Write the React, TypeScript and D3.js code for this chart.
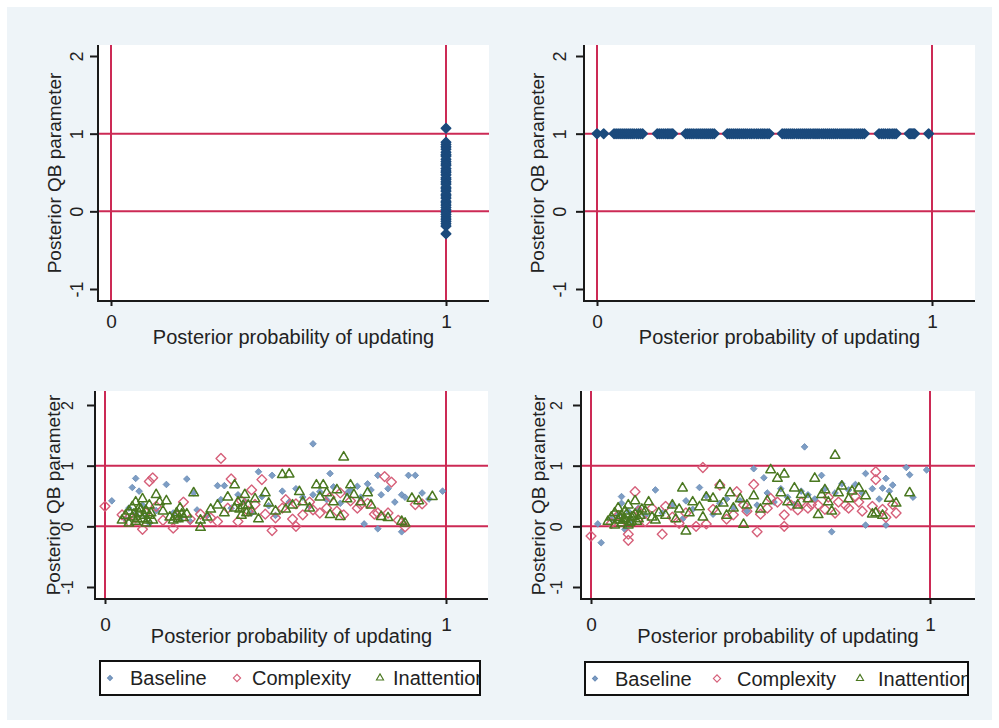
import React, { useEffect, useRef } from 'react';
import * as d3 from 'd3';

const FONT = "'Liberation Sans', Arial, sans-serif";

// axis ticks and reference lines
const yTicks = [-1, 0, 1, 2];
const xTicks = [0, 1];
const xRefs = [0, 1];
const yRefs = [0, 1];
const yTitle = 'Posterior QB parameter';
const xTitle = 'Posterior probability of updating';
const seriesNames = ['Baseline', 'Complexity', 'Inattention'];

// top-left panel: every point sits at x = 1
const topLeftY = [1.07, 0.89, 0.86, 0.83, 0.8, 0.76, 0.73, 0.71, 0.67, 0.64, 0.61, 0.59, 0.55, 0.52, 0.5, 0.47,
  0.43, 0.41, 0.38, 0.35, 0.31, 0.29, 0.26, 0.22, 0.2, 0.17, 0.13, 0.11, 0.08, 0.05, 0.02, -0.01, -0.04, -0.07,
  -0.1, -0.13, -0.16, -0.19, -0.29];

// top-right panel: every point sits at y = 1
const topRightX = [0.0, 0.02, 0.051, 0.057, 0.063, 0.069, 0.075, 0.081, 0.087, 0.093, 0.099, 0.105, 0.111, 0.118,
  0.124, 0.13, 0.136, 0.18, 0.186, 0.192, 0.198, 0.204, 0.21, 0.215, 0.221, 0.226, 0.265, 0.271, 0.277, 0.283,
  0.289, 0.296, 0.302, 0.308, 0.314, 0.32, 0.326, 0.332, 0.338, 0.344, 0.35, 0.389, 0.395, 0.401, 0.407, 0.413,
  0.419, 0.425, 0.431, 0.437, 0.443, 0.449, 0.456, 0.462, 0.469, 0.476, 0.482, 0.489, 0.495, 0.501, 0.508, 0.514,
  0.553, 0.559, 0.565, 0.571, 0.577, 0.583, 0.589, 0.596, 0.602, 0.608, 0.614, 0.62, 0.626, 0.632, 0.638, 0.645,
  0.651, 0.657, 0.663, 0.67, 0.676, 0.682, 0.688, 0.694, 0.7, 0.706, 0.712, 0.718, 0.725, 0.731, 0.737, 0.743,
  0.749, 0.755, 0.761, 0.768, 0.774, 0.78, 0.786, 0.792, 0.798, 0.842, 0.849, 0.855, 0.861, 0.868, 0.874, 0.881,
  0.887, 0.893, 0.932, 0.936, 0.94, 0.944, 0.948, 0.99];

// bottom-left panel
const blBaseline: [number, number][] = [[0.02, 0.42], [0.09, 0.79], [0.08, 0.64], [0.1, 0.58], [0.07, 0.3], [0.06, 0.12],
  [0.09, 0.2], [0.11, 0.35], [0.12, 0.15], [0.13, 0.05], [0.15, 0.26], [0.18, 0.69], [0.2, 0.22], [0.22, 0.12],
  [0.24, 0.78], [0.26, 0.55], [0.27, 0.27], [0.25, 0.08], [0.3, 0.18], [0.33, 0.67], [0.35, 0.67], [0.34, 0.44],
  [0.37, 0.3], [0.39, 0.52], [0.41, 0.41], [0.43, 0.22], [0.45, 0.9], [0.46, 0.49], [0.48, 0.34], [0.49, 0.84],
  [0.5, 0.18], [0.52, 0.58], [0.54, 0.4], [0.56, 0.62], [0.58, 0.48], [0.6, 0.33], [0.61, 1.36], [0.61, 0.52],
  [0.63, 0.57], [0.65, 0.44], [0.66, 0.87], [0.67, 0.65], [0.69, 0.38], [0.71, 0.55], [0.72, 0.6], [0.74, 0.66],
  [0.75, 0.48], [0.76, 0.04], [0.77, 0.7], [0.78, 0.6], [0.8, 0.84], [0.8, -0.04], [0.81, 0.52], [0.83, 0.62],
  [0.85, 0.4], [0.87, 0.52], [0.88, 0.48], [0.87, -0.09], [0.89, 0.84], [0.91, 0.84], [0.93, 0.55], [0.95, 0.45],
  [0.99, 0.58]];
const blComplexity: [number, number][] = [[0.0, 0.33], [0.05, 0.19], [0.07, 0.08], [0.09, 0.14], [0.11, -0.05],
  [0.12, 0.22], [0.13, 0.74], [0.14, 0.8], [0.15, 0.33], [0.17, 0.1], [0.2, -0.03], [0.21, 0.18], [0.23, 0.4],
  [0.25, 0.12], [0.28, 0.2], [0.31, 0.14], [0.33, 0.08], [0.34, 1.12], [0.36, 0.3], [0.37, 0.78], [0.39, 0.08],
  [0.4, 0.42], [0.42, 0.25], [0.43, 0.6], [0.44, 0.36], [0.46, 0.77], [0.47, 0.2], [0.49, -0.07], [0.5, 0.14],
  [0.52, 0.3], [0.53, 0.44], [0.55, 0.12], [0.56, 0.37], [0.56, 0.0], [0.58, 0.19], [0.6, 0.4], [0.61, 0.27],
  [0.63, 0.22], [0.65, 0.3], [0.66, 0.48], [0.68, 0.25], [0.69, 0.55], [0.7, 0.19], [0.72, 0.42], [0.74, 0.3],
  [0.75, 0.36], [0.77, 0.38], [0.79, 0.2], [0.8, 0.22], [0.82, 0.82], [0.83, 0.22], [0.84, 0.73], [0.86, 0.1],
  [0.88, -0.01], [0.91, 0.36], [0.93, 0.37]];
const blInattention: [number, number][] = [[0.05, 0.1], [0.06, 0.18], [0.07, 0.05], [0.07, 0.25], [0.08, 0.32],
  [0.08, 0.15], [0.09, 0.4], [0.09, 0.08], [0.1, 0.22], [0.1, 0.3], [0.11, 0.12], [0.11, 0.45], [0.12, 0.26],
  [0.12, 0.05], [0.13, 0.18], [0.13, 0.35], [0.14, 0.1], [0.15, 0.52], [0.16, 0.4], [0.17, 0.25], [0.18, 0.42],
  [0.19, 0.15], [0.2, 0.1], [0.21, 0.22], [0.22, 0.3], [0.23, 0.14], [0.24, 0.2], [0.26, 0.55], [0.28, -0.02],
  [0.28, 0.1], [0.3, 0.15], [0.31, 0.28], [0.33, 0.35], [0.35, 0.22], [0.36, 0.48], [0.38, 0.68], [0.38, 0.3],
  [0.39, 0.4], [0.4, 0.18], [0.41, 0.52], [0.42, 0.35], [0.43, 0.25], [0.44, 0.45], [0.45, 0.12], [0.47, 0.55],
  [0.48, 0.38], [0.5, 0.25], [0.52, 0.85], [0.54, 0.86], [0.53, 0.28], [0.55, 0.35], [0.57, 0.57], [0.58, 0.4],
  [0.6, 0.3], [0.62, 0.68], [0.63, 0.48], [0.64, 0.68], [0.65, 0.55], [0.66, 0.19], [0.67, 0.4], [0.68, 0.6],
  [0.69, 0.16], [0.7, 1.14], [0.71, 0.45], [0.72, 0.68], [0.73, 0.52], [0.75, 0.4], [0.77, 0.55], [0.78, 0.35],
  [0.81, 0.16], [0.83, 0.14], [0.87, 0.08], [0.88, 0.05], [0.9, 0.46], [0.92, 0.42], [0.96, 0.49],
  [0.085, 0.2], [0.095, 0.12], [0.105, 0.28], [0.115, 0.18], [0.125, 0.1], [0.135, 0.22], [0.205, 0.16],
  [0.215, 0.12], [0.225, 0.2], [0.395, 0.28], [0.405, 0.34], [0.415, 0.22]];

// bottom-right panel
const brBaseline: [number, number][] = [[0.02, 0.04], [0.03, -0.27], [0.06, 0.12], [0.08, 0.2], [0.09, 0.49], [0.09, 0.38],
  [0.1, -0.05], [0.11, 0.25], [0.12, 0.08], [0.14, 0.3], [0.16, 0.18], [0.19, 0.6], [0.21, 0.22], [0.24, 0.35],
  [0.27, 0.12], [0.28, 0.42], [0.3, 0.28], [0.32, 0.64], [0.34, 0.5], [0.36, 0.2], [0.38, 0.38], [0.4, 0.45],
  [0.42, 0.3], [0.44, 0.42], [0.46, 0.25], [0.48, 0.95], [0.49, 0.35], [0.51, 0.8], [0.52, 0.55], [0.54, 0.4],
  [0.56, 0.62], [0.58, 0.48], [0.6, 0.36], [0.62, 0.58], [0.63, 1.31], [0.64, 0.52], [0.66, 0.45], [0.68, 0.84],
  [0.69, 0.62], [0.71, -0.09], [0.72, 0.55], [0.74, 0.7], [0.76, 0.6], [0.78, 0.69], [0.8, 0.55], [0.81, 0.87],
  [0.81, 0.02], [0.83, 0.62], [0.85, 0.45], [0.86, 0.63], [0.87, 0.79], [0.87, 0.02], [0.88, 0.58], [0.89, 0.68],
  [0.93, 0.97], [0.94, 0.85], [0.95, 0.48], [0.99, 0.93]];
const brComplexity: [number, number][] = [[0.0, -0.16], [0.06, 0.05], [0.08, 0.18], [0.1, 0.1], [0.11, -0.23],
  [0.11, -0.13], [0.13, 0.57], [0.14, 0.25], [0.16, 0.08], [0.18, 0.3], [0.21, -0.13], [0.22, 0.33], [0.24, 0.15],
  [0.26, 0.05], [0.28, 0.22], [0.31, 0.0], [0.33, 0.97], [0.34, 0.04], [0.36, 0.28], [0.38, 0.68], [0.4, 0.12],
  [0.42, 0.19], [0.43, 0.57], [0.45, 0.35], [0.46, 0.25], [0.48, 0.69], [0.49, -0.09], [0.5, 0.2], [0.52, 0.3],
  [0.53, 0.46], [0.55, 0.4], [0.57, 0.19], [0.57, 0.0], [0.59, 0.35], [0.61, 0.27], [0.62, 0.4], [0.64, 0.3],
  [0.65, 0.36], [0.67, 0.35], [0.69, 0.28], [0.7, 0.48], [0.72, 0.22], [0.73, 0.4], [0.75, 0.35], [0.76, 0.3],
  [0.78, 0.49], [0.79, 0.4], [0.8, 0.25], [0.83, 0.33], [0.84, 0.9], [0.84, 0.77], [0.86, 0.28], [0.87, 0.15],
  [0.89, 0.36], [0.9, 0.22]];
const brInattention: [number, number][] = [[0.05, 0.08], [0.06, 0.15], [0.07, 0.02], [0.07, 0.22], [0.08, 0.1],
  [0.08, 0.3], [0.09, 0.05], [0.09, 0.18], [0.1, 0.12], [0.1, 0.25], [0.11, 0.02], [0.11, 0.35], [0.12, 0.15],
  [0.12, 0.08], [0.13, 0.42], [0.13, 0.2], [0.14, 0.12], [0.15, 0.28], [0.16, 0.25], [0.17, 0.4], [0.18, 0.15],
  [0.19, 0.1], [0.2, 0.22], [0.22, 0.18], [0.24, 0.35], [0.25, 0.12], [0.26, 0.28], [0.27, 0.63], [0.28, -0.08],
  [0.29, 0.22], [0.3, 0.4], [0.32, 0.32], [0.33, 0.15], [0.34, 0.48], [0.36, 0.46], [0.37, 0.25], [0.38, 0.68],
  [0.39, 0.38], [0.4, 0.18], [0.41, 0.55], [0.42, 0.3], [0.44, 0.45], [0.45, 0.03], [0.46, 0.35], [0.48, 0.5],
  [0.5, 0.28], [0.52, 0.42], [0.53, 0.93], [0.55, 0.79], [0.56, 0.55], [0.57, 0.86], [0.58, 0.4], [0.6, 0.63],
  [0.61, 0.35], [0.62, 0.52], [0.64, 0.45], [0.66, 0.79], [0.67, 0.19], [0.68, 0.52], [0.69, 0.6], [0.7, 0.4],
  [0.71, 0.25], [0.72, 1.17], [0.73, 0.55], [0.74, 0.66], [0.76, 0.45], [0.77, 0.58], [0.79, 0.63], [0.81, 0.5],
  [0.83, 0.2], [0.84, 0.22], [0.86, 0.18], [0.88, 0.46], [0.9, 0.38], [0.94, 0.55],
  [0.085, 0.14], [0.095, 0.1], [0.105, 0.2], [0.115, 0.06], [0.125, 0.16], [0.135, 0.08], [0.145, 0.18]];

const REF = '#cc2a55';
const AXIS = '#1a1a1a';

// marker styles for each series
const styles = {
  navy: { shape: 'diamond', size: 44, fill: '#1b4a7c', stroke: '#1b4a7c', sw: 1.6 },
  baseline: { shape: 'diamond', size: 22, fill: '#7d9dc4', stroke: '#6a8cb6', sw: 0.8 },
  complexity: { shape: 'diamond', size: 48, fill: 'none', stroke: '#d6607a', sw: 1.4 },
  inattention: { shape: 'triangle', size: 40, fill: 'none', stroke: '#4a7820', sw: 1.5 },
};

// panel layout (pixel frame of each plot)
const panels = [
  { left: 98, right: 489, top: 45, bottom: 301, x0: 111, x1: 446, yLo: 289, yHi: 56,
    tickX: 83, titleX: 61, tickFs: 18, xTickY: 328, xTitleY: 344,
    layers: [{ pts: topLeftY.map(v => [1, v] as [number, number]), st: styles.navy }] },
  { left: 584, right: 975, top: 45, bottom: 301, x0: 597, x1: 932, yLo: 289, yHi: 56,
    tickX: 566, titleX: 544, tickFs: 18, xTickY: 328, xTitleY: 344,
    layers: [{ pts: topRightX.map(v => [v, 1] as [number, number]), st: styles.navy }] },
  { left: 95, right: 488, top: 391, bottom: 599, x0: 105, x1: 446, yLo: 587, yHi: 405,
    tickX: 73, titleX: 60, tickFs: 16, xTickY: 631, xTitleY: 643,
    layers: [{ pts: blBaseline, st: styles.baseline }, { pts: blComplexity, st: styles.complexity },
      { pts: blInattention, st: styles.inattention }],
    legend: { left: 100, right: 480, top: 661, bottom: 695, marks: [110, 237, 380], texts: [130, 252, 393] } },
  { left: 581, right: 975, top: 391, bottom: 599, x0: 591, x1: 930, yLo: 587, yHi: 405,
    tickX: 562, titleX: 545, tickFs: 16, xTickY: 631, xTitleY: 643,
    layers: [{ pts: brBaseline, st: styles.baseline }, { pts: brComplexity, st: styles.complexity },
      { pts: brInattention, st: styles.inattention }],
    legend: { left: 585, right: 968, top: 662, bottom: 695, marks: [595, 717, 860], texts: [615, 737, 878] } },
];

const markerPath = (st, scale = 1) => {
  if (st.shape === 'triangle') return d3.symbol(d3.symbolTriangle, st.size * scale)();
  return d3.symbol(d3.symbolSquare, st.size * scale)();
};
const markerRot = st => (st.shape === 'diamond' ? ' rotate(45)' : '');

const App = () => {
  const svgRef = useRef<SVGSVGElement>(null);

  useEffect(() => {
    if (!svgRef.current) return;
    const svg = d3.select(svgRef.current);
    svg.selectAll('*').remove();

    svg.append('rect').attr('width', 999).attr('height', 728).attr('fill', '#ffffff');
    svg.append('rect').attr('x', 7).attr('y', 7).attr('width', 985).attr('height', 713).attr('fill', '#eef4f8');

    panels.forEach((p, pi) => {
      const x = d3.scaleLinear().domain([0, 1]).range([p.x0, p.x1]);
      const y = d3.scaleLinear().domain([-1, 2]).range([p.yLo, p.yHi]);
      const g = svg.append('g');

      // plot region
      g.append('rect')
        .attr('x', p.left).attr('y', p.top)
        .attr('width', p.right - p.left).attr('height', p.bottom - p.top)
        .attr('fill', '#ffffff');

      // reference lines
      xRefs.forEach(v => {
        g.append('line')
          .attr('x1', x(v)).attr('x2', x(v)).attr('y1', p.top).attr('y2', p.bottom)
          .attr('stroke', REF).attr('stroke-width', 2);
      });
      yRefs.forEach(v => {
        g.append('line')
          .attr('x1', p.left).attr('x2', p.right).attr('y1', y(v)).attr('y2', y(v))
          .attr('stroke', REF).attr('stroke-width', 2);
      });

      // markers
      p.layers.forEach(layer => {
        g.append('g').selectAll('path')
          .data(layer.pts)
          .enter()
          .append('path')
          .attr('d', markerPath(layer.st))
          .attr('transform', d => `translate(${x(d[0])},${y(d[1])})${markerRot(layer.st)}`)
          .attr('fill', layer.st.fill)
          .attr('stroke', layer.st.stroke)
          .attr('stroke-width', layer.st.sw)
          .attr('stroke-linejoin', 'round');
      });

      // y axis
      const ya = g.append('g')
        .attr('transform', `translate(${p.left},0)`)
        .call(d3.axisLeft(y).tickValues(yTicks).tickSize(8).tickSizeOuter(0).tickFormat(d => String(d)));
      ya.select('.domain').remove();
      ya.selectAll('.tick line').attr('stroke', AXIS).attr('stroke-width', 2);
      ya.selectAll('.tick text')
        .attr('transform', 'rotate(-90)')
        .attr('text-anchor', 'middle')
        .attr('x', 0).attr('dy', 0)
        .attr('y', -(p.left - p.tickX))
        .attr('font-family', FONT).attr('font-size', p.tickFs).attr('fill', '#222');
      g.append('line')
        .attr('x1', p.left).attr('x2', p.left).attr('y1', p.top).attr('y2', p.bottom + 1)
        .attr('stroke', AXIS).attr('stroke-width', 2);

      // x axis
      const xa = g.append('g')
        .attr('transform', `translate(0,${p.bottom})`)
        .call(d3.axisBottom(x).tickValues(xTicks).tickSize(5).tickSizeOuter(0).tickFormat(d => String(d)));
      xa.select('.domain').remove();
      xa.selectAll('.tick line').attr('stroke', AXIS).attr('stroke-width', 2);
      xa.selectAll('.tick text')
        .attr('y', p.xTickY - p.bottom).attr('dy', 0)
        .attr('font-family', FONT).attr('font-size', 19).attr('fill', '#222');
      g.append('line')
        .attr('x1', p.left - 1).attr('x2', p.right).attr('y1', p.bottom).attr('y2', p.bottom)
        .attr('stroke', AXIS).attr('stroke-width', 2);

      // titles
      g.append('text')
        .attr('transform', `translate(${p.titleX},${(p.top + p.bottom) / 2}) rotate(-90)`)
        .attr('text-anchor', 'middle')
        .attr('font-family', FONT).attr('font-size', 19).attr('fill', '#222')
        .text(yTitle);
      g.append('text')
        .attr('x', (p.left + p.right) / 2).attr('y', p.xTitleY)
        .attr('text-anchor', 'middle')
        .attr('font-family', FONT).attr('font-size', 20).attr('fill', '#222')
        .text(xTitle);

      // legend
      if (p.legend) {
        const L = p.legend;
        const clipId = `legclip${pi}`;
        svg.append('defs').append('clipPath').attr('id', clipId)
          .append('rect')
          .attr('x', L.left).attr('y', L.top).attr('width', L.right - L.left).attr('height', L.bottom - L.top);
        g.append('rect')
          .attr('x', L.left).attr('y', L.top)
          .attr('width', L.right - L.left).attr('height', L.bottom - L.top)
          .attr('fill', '#ffffff');
        const lg = g.append('g').attr('clip-path', `url(#${clipId})`);
        const cy = (L.top + L.bottom) / 2;
        p.layers.forEach((layer, i) => {
          lg.append('path')
            .attr('d', markerPath(layer.st, 0.55))
            .attr('transform', `translate(${L.marks[i]},${cy})${markerRot(layer.st)}`)
            .attr('fill', layer.st.fill)
            .attr('stroke', layer.st.stroke)
            .attr('stroke-width', 1.1);
          lg.append('text')
            .attr('x', L.texts[i]).attr('y', cy + 7)
            .attr('font-family', FONT).attr('font-size', 20).attr('fill', '#222')
            .text(seriesNames[i]);
        });
        g.append('rect')
          .attr('x', L.left).attr('y', L.top)
          .attr('width', L.right - L.left).attr('height', L.bottom - L.top)
          .attr('fill', 'none').attr('stroke', '#111').attr('stroke-width', 2);
      }
    });
  }, []);

  return (
    <svg
      ref={svgRef}
      width={999}
      height={728}
      style={{ position: 'absolute', left: 0, top: 0, display: 'block' }}
    />
  );
};

export default App;
